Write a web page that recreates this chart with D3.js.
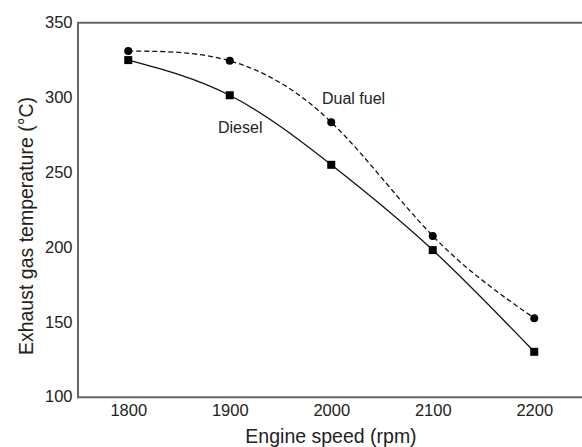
<!DOCTYPE html>
<html>
<head>
<meta charset="utf-8">
<script src="https://cdn.jsdelivr.net/npm/d3@7"></script>
<style>
  body { margin: 0; background: #fff; }
  svg { display: block; font-family: Arial, "Liberation Sans", sans-serif; }
  .axis .domain { stroke: #666; stroke-width: 2; }
  .axis text { fill: #222; font-size: 16.5px; }
</style>
</head>
<body>
<svg class="chart" width="582" height="447"></svg>
<script>
// engine speed (rpm)
let speeds = [1800, 1900, 2000, 2100, 2200];
// exhaust gas temperature (C)
let dieselTemps = [325, 301.5, 255, 198, 130];
let dualTemps = [331, 324.5, 283.5, 207.5, 152.5];
let xTicks = [1800, 1900, 2000, 2100, 2200];
let yTicks = [100, 150, 200, 250, 300, 350];

let svg = d3.select(".chart");
let plotLeft = 77.5, plotRight = 585, plotTop = 22.7, plotBottom = 396.7;

let x = d3.scaleLinear().domain([1750, 2250]).range([plotLeft, plotRight]);
let y = d3.scaleLinear().domain([100, 350]).range([plotBottom, plotTop]);

// top border of the box
svg.append("line")
    .attr("x1", plotLeft).attr("x2", plotRight)
    .attr("y1", plotTop).attr("y2", plotTop)
    .attr("stroke", "#666").attr("stroke-width", 2);

svg.append("g")
    .attr("class", "axis")
    .attr("transform", "translate(0," + plotBottom + ")")
    .call(d3.axisBottom(x).tickValues(xTicks).tickSize(0).tickPadding(8).tickFormat(d3.format("d")));

svg.append("g")
    .attr("class", "axis")
    .attr("transform", "translate(" + plotLeft + ",0)")
    .call(d3.axisLeft(y).tickValues(yTicks).tickSize(0).tickPadding(5));

svg.selectAll(".axis .domain").attr("stroke-linecap", "square");

let series = [
    {name: "Dual fuel", values: dualTemps, dash: "5,3", shape: "circle"},
    {name: "Diesel", values: dieselTemps, dash: null, shape: "square"}
];

let line = d3.line()
    .x(function(d) { return x(d[0]); })
    .y(function(d) { return y(d[1]); })
    .curve(d3.curveNatural);

series.forEach(function(s) {
    let pts = speeds.map(function(v, i) { return [v, s.values[i]]; });
    svg.append("path")
        .datum(pts)
        .attr("fill", "none")
        .attr("stroke", "#111")
        .attr("stroke-width", 1.3)
        .attr("stroke-dasharray", s.dash)
        .attr("d", line);
    if (s.shape == "circle") {
        svg.append("g").selectAll("circle")
            .data(pts)
            .enter().append("circle")
            .attr("cx", function(d) { return x(d[0]); })
            .attr("cy", function(d) { return y(d[1]); })
            .attr("r", 4)
            .attr("fill", "#000");
    } else {
        svg.append("g").selectAll("rect")
            .data(pts)
            .enter().append("rect")
            .attr("x", function(d) { return x(d[0]) - 4; })
            .attr("y", function(d) { return y(d[1]) - 4; })
            .attr("width", 8)
            .attr("height", 8)
            .attr("fill", "#000");
    }
});

// series labels
svg.append("text").attr("x", 322).attr("y", 104)
    .attr("font-size", "16px").attr("fill", "#222").text("Dual fuel");
svg.append("text").attr("x", 218).attr("y", 133)
    .attr("font-size", "16px").attr("fill", "#222").text("Diesel");

// axis titles
svg.append("text")
    .attr("x", 331).attr("y", 443)
    .attr("text-anchor", "middle")
    .attr("font-size", "19.5px").attr("fill", "#222")
    .text("Engine speed (rpm)");

svg.append("text")
    .attr("transform", "translate(33,226) rotate(-90)")
    .attr("text-anchor", "middle")
    .attr("font-size", "19.5px").attr("fill", "#222")
    .text("Exhaust gas temperature (°C)");
</script>
</body>
</html>
